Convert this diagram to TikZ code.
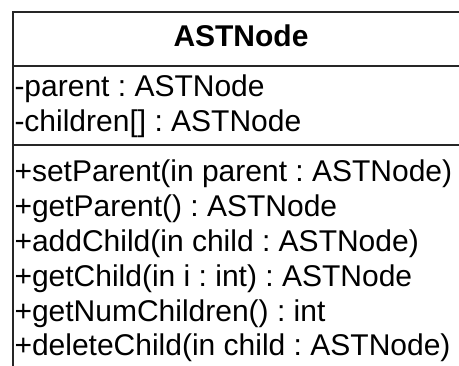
\documentclass[tikz,border=0pt]{standalone}
\usepackage{fontspec}
\setmainfont{Liberation Sans}
\frenchspacing
\begin{document}
\begin{tikzpicture}[x=1pt,y=1pt,
  umltext/.style={anchor=base west,inner sep=0pt,outer sep=0pt,font=\fontsize{30}{35}\selectfont\frenchspacing},
  umltitle/.style={anchor=base,inner sep=0pt,outer sep=0pt,font=\fontsize{30}{35}\selectfont\bfseries},
  umlline/.style={line width=2pt,draw=black!85}]
\useasboundingbox (0,0) rectangle (459,-366);
\clip (0,0) rectangle (459,-366);
\fill[white] (0,0) rectangle (459,-366);
\coordinate (tl) at (13,-12);
\coordinate (br) at (470,-400);
\draw[umlline] (tl) rectangle (br);
\coordinate (d1l) at (13,-66);
\coordinate (d1r) at (470,-66);
\coordinate (d2l) at (13,-145);
\coordinate (d2r) at (470,-145);
\draw[umlline] (d1l) -- (d1r);
\draw[umlline] (d2l) -- (d2r);
\node[umltitle] (title) at (241,-47) {ASTNode};
\node[umltext] (a1) at (14.5,-97) {-parent : ASTNode};
\node[umltext] (a2) at (14.5,-131.8) {-children[] : ASTNode};
\node[umltext] (m1) at (14.5,-182) {+setParent(in parent : ASTNode)};
\node[umltext] (m2) at (14.5,-216.8) {+getParent() : ASTNode};
\node[umltext] (m3) at (14.5,-251.6) {+addChild(in child : ASTNode)};
\node[umltext] (m4) at (14.5,-286.4) {+getChild(in i : int) : ASTNode};
\node[umltext] (m5) at (14.5,-321.2) {+getNumChildren() : int};
\node[umltext] (m6) at (14.5,-356) {+deleteChild(in child : ASTNode)};
\end{tikzpicture}
\end{document}
